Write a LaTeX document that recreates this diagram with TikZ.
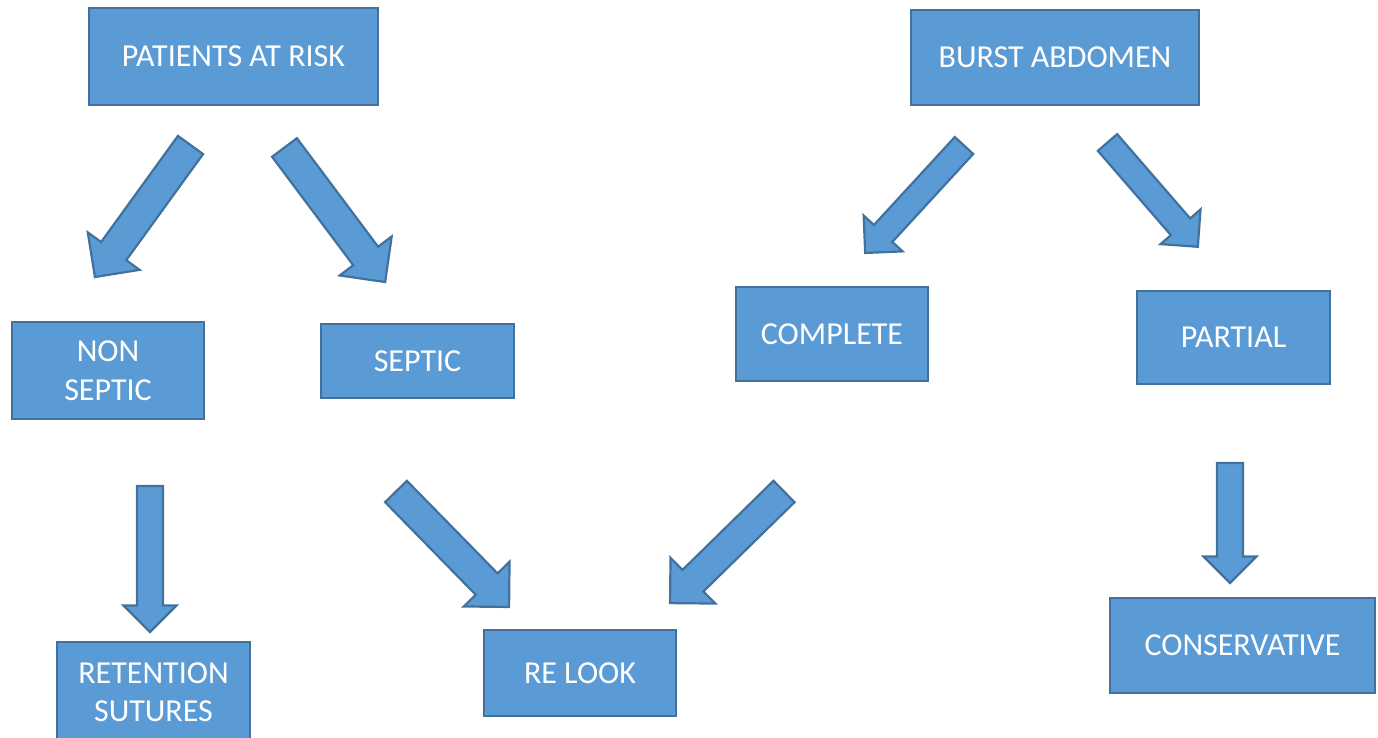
\documentclass[tikz,border=0pt]{standalone}
\usepackage{fontspec}
\setmainfont{Carlito}
\definecolor{boxfill}{HTML}{5B9BD5}
\definecolor{boxline}{HTML}{41719C}
\tikzset{
  stagebox/.style={draw=boxline,line width=2.2pt,fill=boxfill,text=white,align=center,
    inner sep=0pt,outer sep=0pt,font=\fontsize{32}{38.5}\selectfont},
  arrowbody/.style={draw=boxline,line width=2.2pt,fill=boxfill},
  % block arrow: length, head width, shaft width (tip angle 90)
  pics/bigarrow/.style n args={3}{code={
    \path[arrowbody] (0,#3/2) -- ({#1-#2/2},#3/2) -- ({#1-#2/2},#2/2) -- (#1,0)
      -- ({#1-#2/2},-#2/2) -- ({#1-#2/2},-#3/2) -- (0,-#3/2) -- cycle;
  }}
}

\begin{document}
\begin{tikzpicture}[x=1pt,y=1pt]
\useasboundingbox (0,0) rectangle (1378,737);
% boxes
\node[stagebox,minimum width=289,minimum height=97] (risk) at (233.5,680.5) {PATIENTS AT RISK};
\node[stagebox,minimum width=288,minimum height=95] (burst) at (1055,679.5) {BURST ABDOMEN};
\node[stagebox,minimum width=192,minimum height=97] (nonseptic) at (108,366.5) {NON\\SEPTIC};
\node[stagebox,minimum width=193,minimum height=74] (septic) at (417.5,376) {SEPTIC};
\node[stagebox,minimum width=192,minimum height=94] (complete) at (832,403) {COMPLETE};
\node[stagebox,minimum width=193,minimum height=93] (partial) at (1233.5,399.5) {PARTIAL};
\node[stagebox,minimum width=193,minimum height=100] (retention) at (153.5,45) {RETENTION\\SUTURES};
\node[stagebox,minimum width=192,minimum height=86] (relook) at (580,64) {RE LOOK};
\node[stagebox,minimum width=265,minimum height=95] (conservative) at (1242.5,91.5) {CONSERVATIVE};
% block arrows
\pic[rotate=-125.9] (risk2non) at (190.5,592) {bigarrow={163}{64}{31}};
\pic[rotate=-53.2] (risk2sep) at (284.5,589.5) {bigarrow={168}{65}{31}};
\pic[rotate=-90] (non2ret) at (150,251) {bigarrow={146}{53}{26}};
\pic[rotate=-45.6] (sep2re) at (396,245.5) {bigarrow={161.6}{64}{30.5}};
\pic[rotate=-135.6] (com2re) at (784,245.5) {bigarrow={159.5}{64}{30}};
\pic[rotate=-132.6] (burst2com) at (964,591.5) {bigarrow={146}{53}{25}};
\pic[rotate=-49.1] (burst2par) at (1107.5,594.5) {bigarrow={138}{53}{25.5}};
\pic[rotate=-90] (par2con) at (1230,274) {bigarrow={120}{53}{26}};
\end{tikzpicture}
\end{document}
